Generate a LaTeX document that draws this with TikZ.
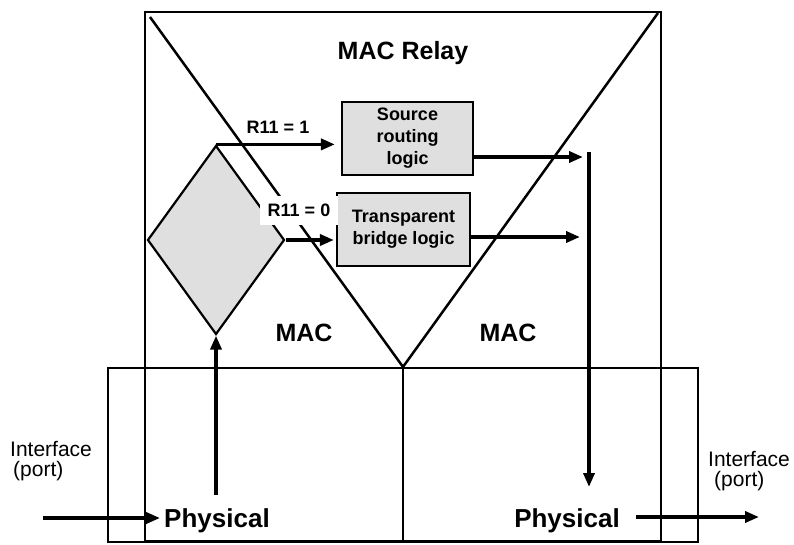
\documentclass[tikz,border=0pt]{standalone}
\usepackage{fontspec}
\setmainfont{Liberation Sans}
\usetikzlibrary{arrows.meta,shapes.geometric}

\begin{document}
\begin{tikzpicture}[
    x=1pt, y=-1pt,
    frame/.style={draw, line width=2.2pt, inner sep=0pt},
    logic/.style={
        rectangle, draw, line width=2.2pt, fill=gray!25,
        minimum width=131pt, minimum height=73pt,
        align=center, font=\fontsize{18}{22}\selectfont\bfseries
    },
    decision/.style={
        diamond, draw, line width=2.2pt, fill=gray!25,
        minimum width=137pt, minimum height=189pt, inner sep=0pt
    },
    big/.style={font=\fontsize{25}{28}\selectfont\bfseries, inner sep=0pt},
    phy/.style={font=\fontsize{26}{28}\selectfont\bfseries, inner sep=0pt},
    port/.style={align=left, font=\fontsize{21}{20}\selectfont, inner sep=0pt},
    lbl/.style={font=\fontsize{18}{20}\selectfont\bfseries, inner sep=1pt},
    >={Triangle[length=14pt,width=11pt]},
    flow/.style={->, line width=3.5pt}
]
\useasboundingbox (0,0) rectangle (794,545);

\node[frame, minimum width=516pt, minimum height=529pt] (relay) at (403,276.5) {};
\node[frame, minimum width=590pt, minimum height=174pt] (phy)   at (403,455) {};
\draw[frame] (phy.north) -- (phy.south);

\coordinate (vl) at (150,17);
\coordinate (vr) at (658,13);
\draw[line width=2.5pt] (vl) -- (phy.north) -- (vr);

\node[decision] (dia)    at (216,240)     {};
\node[logic]    (source) at (407.5,138.5) {Source\\routing\\logic};
\node[logic, minimum width=133pt] (trans) at (403.5,229.5) {Transparent\\bridge logic};

\coordinate (merge) at (589,152);
\coordinate (drop)  at (589,487);
\coordinate (up)    at (216,495);
\coordinate (inL)   at (43,518);
\coordinate (outR)  at (759,517);

\node[phy, anchor=base] (phyL) at (217,527) {Physical};
\node[phy, anchor=base] (phyR) at (567,527) {Physical};

\draw[flow] (dia.north) -- ([xshift=-6pt]dia.north -| source.west);
\draw[flow] (dia.east)  -- ([xshift=-2pt]dia.east -| trans.west);
\draw[flow] ([yshift=-18.5pt]source.east) -- ([xshift=-6pt,yshift=-18.5pt]source.east -| merge);
\draw[flow] ([yshift=-7.5pt]trans.east)   -- ([xshift=-9pt,yshift=-7.5pt]trans.east -| merge);
\draw[flow] (merge) -- (drop);
\draw[flow] (up) -- (dia.south);
\draw[flow] (inL) -- ([xshift=-4pt]inL -| phyL.west);
\draw[flow] ([xshift=16pt]phyR.east |- outR) -- (outR);

\node[big, anchor=base] (relaytxt) at (403,60)  {MAC Relay};
\node[big, anchor=base] (macL)     at (304,341) {MAC};
\node[big, anchor=base] (macR)     at (508,341) {MAC};
\node[lbl, anchor=base] (r1)       at (278,133.5) {R11 = 1};
\node[lbl, anchor=base, fill=white, inner xsep=8pt, inner ysep=8pt] (r0) at (299,216.5) {R11 = 0};

\node[port, anchor=west] (portL) at (10,461)  {Interface\\\hspace{3pt}(port)};
\node[port, anchor=west] (portR) at (708,471) {Interface\\\hspace{6pt}(port)};

\end{tikzpicture}
\end{document}
